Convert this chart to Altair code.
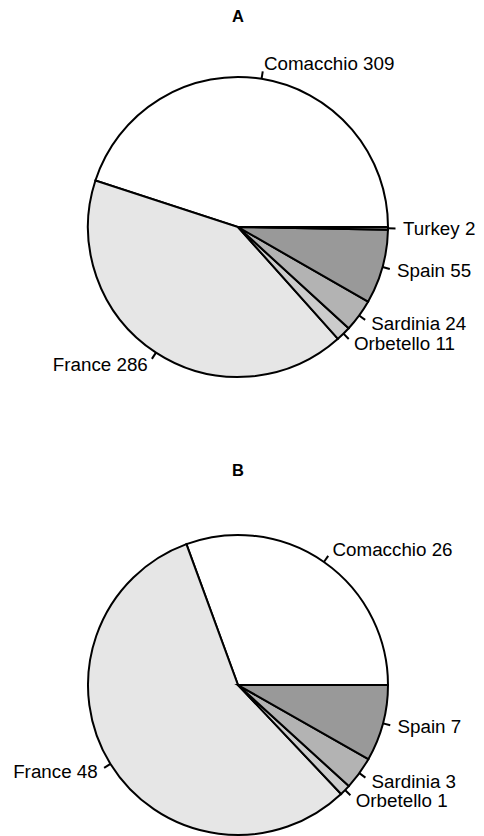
import math
import altair as alt
import pandas as pd

# Data
sites_a = ["Comacchio", "France", "Orbetello", "Sardinia", "Spain", "Turkey"]
counts_a = [309, 286, 11, 24, 55, 2]
sites_b = ["Comacchio", "France", "Orbetello", "Sardinia", "Spain"]
counts_b = [26, 48, 1, 3, 7]
site_colors = ["#FFFFFF", "#E6E6E6", "#CCCCCC", "#B3B3B3", "#999999", "#808080"]

R = 150
W = 460
FONT = "Liberation Sans"
LABEL_SIZE = 18.8
TITLE_SIZE = 16.5
LW = 2


def panel(sites, counts, title, H, title_y):
    df = pd.DataFrame({"site": sites, "n": counts, "order": list(range(len(sites)))})
    base = alt.Chart(df)

    arc = base.mark_arc(outerRadius=R, stroke="black", strokeWidth=LW).encode(
        theta=alt.Theta("n:Q", stack=True,
                        scale=alt.Scale(range=[2.5 * math.pi, 0.5 * math.pi])),
        order=alt.Order("order:Q", sort="ascending"),
        color=alt.Color("site:N", scale=alt.Scale(domain=sites_a, range=site_colors),
                        legend=None),
    )

    geo = base.transform_joinaggregate(total="sum(n)").transform_window(
        cum="sum(n)", sort=[alt.SortField("order", order="ascending")],
        frame=[None, 0]
    ).transform_calculate(
        mid="2*PI*(datum.cum - datum.n/2)/datum.total",
        label="datum.site + ' ' + datum.n",
    ).transform_calculate(
        x0=f"{R}*cos(datum.mid)", y0=f"{R}*sin(datum.mid)",
        x1=f"{R * 1.05}*cos(datum.mid)", y1=f"{R * 1.05}*sin(datum.mid)",
        lx=f"{R * 1.1}*cos(datum.mid)", ly=f"{R * 1.1}*sin(datum.mid)",
        right="cos(datum.mid) >= 0",
    )

    xs = alt.Scale(domain=[-W / 2, W / 2], nice=False, zero=False)
    ys = alt.Scale(domain=[-H / 2, H / 2], nice=False, zero=False)

    ticks = geo.mark_rule(color="black", strokeWidth=LW).encode(
        x=alt.X("x0:Q", scale=xs, axis=None),
        y=alt.Y("y0:Q", scale=ys, axis=None),
        x2="x1:Q", y2="y1:Q",
    )

    txt_r = geo.transform_filter("datum.right").mark_text(
        align="left", baseline="middle", font=FONT, fontSize=LABEL_SIZE, color="black"
    ).encode(
        x=alt.X("lx:Q", scale=xs, axis=None),
        y=alt.Y("ly:Q", scale=ys, axis=None),
        text="label:N",
    )
    txt_l = geo.transform_filter("!datum.right").mark_text(
        align="right", baseline="middle", font=FONT, fontSize=LABEL_SIZE, color="black"
    ).encode(
        x=alt.X("lx:Q", scale=xs, axis=None),
        y=alt.Y("ly:Q", scale=ys, axis=None),
        text="label:N",
    )

    ttl = alt.Chart(pd.DataFrame({"t": [title]})).mark_text(
        align="center", baseline="alphabetic", font=FONT, fontSize=TITLE_SIZE,
        fontWeight="bold", color="black"
    ).encode(text="t:N", x=alt.value(W / 2), y=alt.value(title_y))

    return alt.layer(arc, ticks, txt_r, txt_l, ttl).properties(width=W, height=H)


chart = alt.vconcat(
    panel(sites_a, counts_a, "A", 438, 14),
    panel(sites_b, counts_b, "B", 462, 22),
    spacing=8,
).properties(padding=0).configure_view(stroke=None)

chart.save("out.html", embed_options={"renderer": "svg", "actions": False})
